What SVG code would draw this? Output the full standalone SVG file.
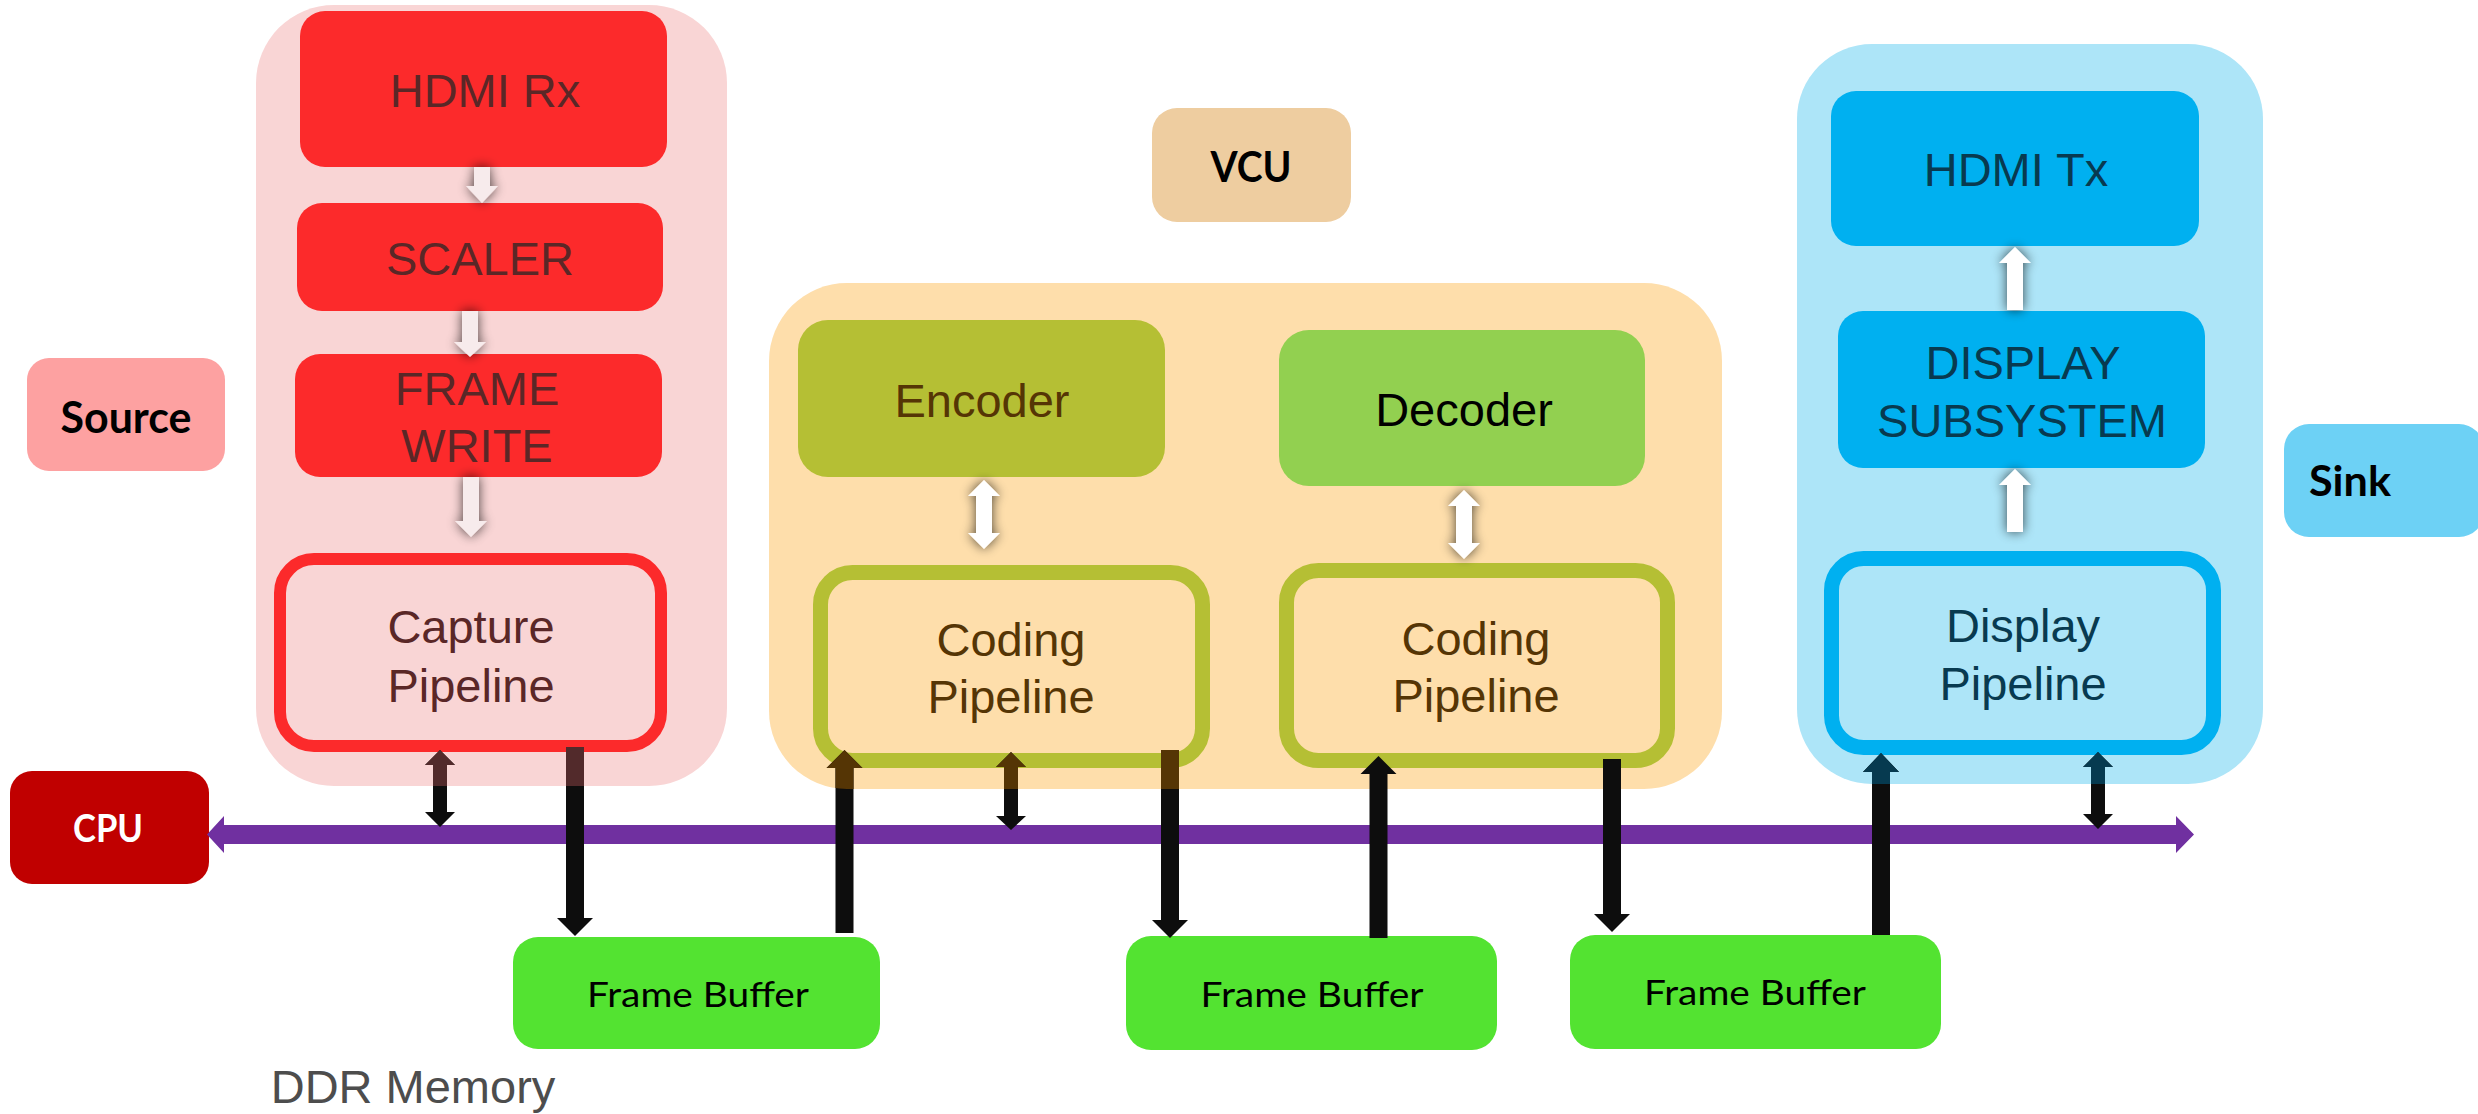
<svg xmlns="http://www.w3.org/2000/svg" xmlns:xlink="http://www.w3.org/1999/xlink" width="2478" height="1114" viewBox="0 0 2478 1114">
<style>
.t{font-family:"Liberation Sans",Arial,sans-serif;font-size:47px;text-anchor:middle}
.lb{font-family:Lato,"Open Sans",sans-serif;font-weight:700;text-anchor:middle}
.fb{font-family:Lato,"Open Sans",sans-serif;font-size:35px;text-anchor:middle;fill:#000}
.src{fill:#5a2727}
.vcu{fill:#553505}
.snk{fill:#083a50}
.red{fill:#fc2a2b}
.blue{fill:#00b0f0}
.frame{fill:#53e331}
.warrow{fill:#fff;filter:url(#glow)}
</style>
<defs>
<filter id="glow" x="-150%" y="-60%" width="400%" height="220%">
<feGaussianBlur in="SourceAlpha" stdDeviation="6"/>
<feComponentTransfer><feFuncA type="linear" slope="0.7"/></feComponentTransfer>
<feMerge><feMergeNode/><feMergeNode in="SourceGraphic"/></feMerge>
</filter>
<clipPath id="clipSrc"><rect x="256" y="5" width="471" height="781" rx="78"/></clipPath>
<clipPath id="clipVcu"><rect x="769" y="283" width="953" height="506" rx="78"/></clipPath>
<clipPath id="clipSnk"><rect x="1797" y="44" width="466" height="740" rx="75"/></clipPath>
</defs>
<rect width="2478" height="1114" fill="#fff"/>

<!-- Source group -->
<g id="source-group">
<rect x="256" y="5" width="471" height="781" rx="78" fill="#f9d5d5"/>
</g>
<g id="hdmi-rx"><rect class="red" x="300" y="11" width="367" height="156" rx="25"/><text class="t src" x="485" y="107">HDMI Rx</text></g>
<g id="scaler"><rect class="red" x="297" y="203" width="366" height="108" rx="25"/><text class="t src" x="480" y="275">SCALER</text></g>
<g id="frame-write"><rect class="red" x="295" y="354" width="367" height="123" rx="25"/><text class="t src" x="477" y="405">FRAME</text><text class="t src" x="477" y="462">WRITE</text></g>
<g id="capture-pipeline"><rect x="280" y="559" width="381" height="187" rx="34" fill="#f9d5d5" stroke="#fc2a2b" stroke-width="12"/><text class="t src" x="471" y="643">Capture</text><text class="t src" x="471" y="702">Pipeline</text></g>
<g id="source-label"><rect x="27" y="358" width="198" height="113" rx="22" fill="#fda1a1"/><text class="lb" x="126" y="433" font-size="43" textLength="131" lengthAdjust="spacingAndGlyphs">Source</text></g>

<!-- VCU group -->
<g id="vcu-label"><rect x="1152" y="108" width="199" height="114" rx="25" fill="#eecda0"/><text class="lb" x="1251" y="182" font-size="42" textLength="81" lengthAdjust="spacingAndGlyphs">VCU</text></g>
<g id="vcu-group"><rect x="769" y="283" width="953" height="506" rx="78" fill="#fedeab"/></g>
<g id="encoder"><rect x="798" y="320" width="367" height="157" rx="30" fill="#b5bf34"/><text class="t vcu" x="982" y="417">Encoder</text></g>
<g id="decoder"><rect x="1279" y="330" width="366" height="156" rx="30" fill="#92d050"/><text class="t" x="1464" y="426" fill="#000">Decoder</text></g>
<g id="coding-pipeline-1"><rect x="820.5" y="572.5" width="382" height="188" rx="32" fill="#fedeab" stroke="#b5bf34" stroke-width="15"/><text class="t vcu" x="1011" y="656">Coding</text><text class="t vcu" x="1011" y="713">Pipeline</text></g>
<g id="coding-pipeline-2"><rect x="1286.5" y="570.5" width="381" height="190" rx="32" fill="#fedeab" stroke="#b5bf34" stroke-width="15"/><text class="t vcu" x="1476" y="655">Coding</text><text class="t vcu" x="1476" y="712">Pipeline</text></g>

<!-- Sink group -->
<g id="sink-group"><rect x="1797" y="44" width="466" height="740" rx="75" fill="#ade5f8"/></g>
<g id="hdmi-tx"><rect class="blue" x="1831" y="91" width="368" height="155" rx="25"/><text class="t snk" x="2016" y="186">HDMI Tx</text></g>
<g id="display-subsystem"><rect class="blue" x="1838" y="311" width="367" height="157" rx="25"/><text class="t snk" x="2023" y="379">DISPLAY</text><text class="t snk" x="2022" y="437">SUBSYSTEM</text></g>
<g id="display-pipeline"><rect x="1831.5" y="558.5" width="382" height="189" rx="32" fill="#ade5f8" stroke="#00b0f0" stroke-width="15"/><text class="t snk" x="2023" y="642">Display</text><text class="t snk" x="2023" y="700">Pipeline</text></g>
<g id="sink-label"><rect x="2284" y="424" width="200" height="113" rx="25" fill="#6dd1f5"/><text class="lb" x="2350" y="496" font-size="42" textLength="82" lengthAdjust="spacingAndGlyphs">Sink</text></g>

<!-- CPU and memory -->
<g id="cpu"><rect x="10" y="771" width="199" height="113" rx="22" fill="#c00000"/><text class="lb" x="108" y="842" font-size="38" fill="#fff" textLength="70" lengthAdjust="spacingAndGlyphs">CPU</text></g>
<g id="frame-buffer-1"><rect class="frame" x="513" y="937" width="367" height="112" rx="25"/><text class="fb" x="698" y="1007" textLength="222" lengthAdjust="spacingAndGlyphs">Frame Buffer</text></g>
<g id="frame-buffer-2"><rect class="frame" x="1126" y="936" width="371" height="114" rx="25"/><text class="fb" x="1312" y="1007" textLength="223" lengthAdjust="spacingAndGlyphs">Frame Buffer</text></g>
<g id="frame-buffer-3"><rect class="frame" x="1570" y="935" width="371" height="114" rx="25"/><text class="fb" x="1755" y="1005" textLength="222" lengthAdjust="spacingAndGlyphs">Frame Buffer</text></g>
<g id="ddr-memory"><text class="t" x="413" y="1103" fill="#4d4d4d">DDR Memory</text></g>

<!-- Connectors -->
<g id="connectors">
<g id="internal-arrows">
<path class="warrow" style="fill:#f7ebec" d="M474 167 H490 V186 H498 L482 203 L466 186 H474 Z"/>
<path class="warrow" style="fill:#f7ebec" d="M462 311 H478 V342 H486 L470 357 L454 342 H462 Z"/>
<path class="warrow" style="fill:#f7ebec" d="M463 477 H479 V521 H487 L471 537 L455 521 H463 Z"/>
<path class="warrow" d="M984 480 L1000 496 H992 V533 H1000 L984 549 L968 533 H976 V496 H968 Z"/>
<path class="warrow" d="M1464 490 L1480 506 H1472 V543 H1480 L1464 559 L1448 543 H1456 V506 H1448 Z"/>
<path class="warrow" d="M2015 247 L2031 263 H2023 V310 H2007 V263 H1999 Z"/>
<path class="warrow" d="M2015 469 L2031 485 H2023 V532 H2007 V485 H1999 Z"/>
</g>
<path id="bus" fill="#7030a0" d="M207 834.5 L224 816 V825 H2176 V816 L2194 834.5 L2176 853 V844 H224 V853 Z"/>
<g id="bus-links" fill="#0d0d0d">
<path id="c1" d="M566 747 H584 V918 H593 L575 936 L557 918 H566 Z"/>
<path id="c2" d="M835.5 933 V768 H826.5 L844.5 750 L862.5 768 H853.5 V933 Z"/>
<path id="c3" d="M1161 750 H1179 V920 H1188 L1170 938 L1152 920 H1161 Z"/>
<path id="c4" d="M1369.5 938 V774 H1360.5 L1378.5 756 L1396.5 774 H1387.5 V938 Z"/>
<path id="c5" d="M1603 759 H1621 V914 H1630 L1612 932 L1594 914 H1603 Z"/>
<path id="c6" d="M1872 935 V772 H1863 L1881 753 L1899 772 H1890 V935 Z"/>
<path id="d1" d="M440 750 L455 765 H447 V812 H455 L440 827 L425 812 H433 V765 H425 Z"/>
<path id="d2" d="M1011 752 L1026 767 H1018 V816 H1026 L1011 830 L996 816 H1004 V767 H996 Z"/>
<path id="d3" d="M2098 752 L2113 767 H2105 V814 H2113 L2098 829 L2083 814 H2091 V767 H2083 Z"/>
</g>
<g clip-path="url(#clipSrc)"><use href="#c1" fill="#522a2b"/><use href="#d1" fill="#522a2b"/></g>
<g clip-path="url(#clipVcu)"><use href="#c2" fill="#553505"/><use href="#c3" fill="#553505"/><use href="#d2" fill="#553505"/></g>
<g clip-path="url(#clipSnk)"><use href="#c6" fill="#063a50"/><use href="#d3" fill="#063a50"/></g>
</g>
</svg>
